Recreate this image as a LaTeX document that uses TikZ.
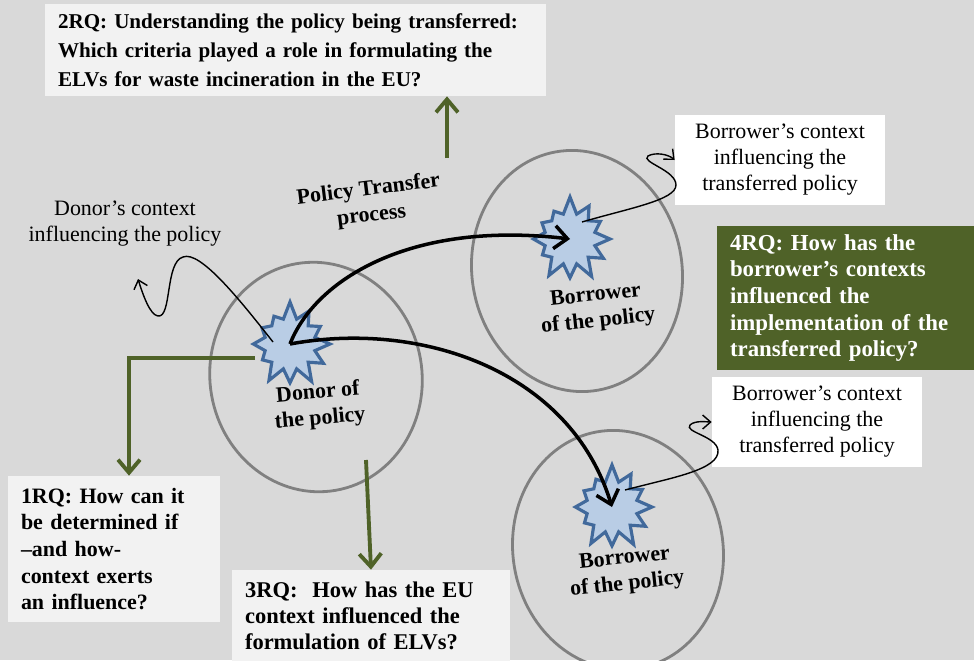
\documentclass[tikz,border=0pt]{standalone}
\usepackage{fontspec}
\setmainfont{Liberation Serif}
\usepackage{xcolor}
\usepackage{tikz}
\usetikzlibrary{
	arrows.meta,
	positioning,
	calc,
	shapes.symbols
}

\definecolor{bggray}{HTML}{D9D9D9}
\definecolor{boxgray}{HTML}{F2F2F2}
\definecolor{rqgreen}{HTML}{4F6228}
\definecolor{burstfill}{HTML}{B9CDE5}
\definecolor{burstdraw}{HTML}{41699B}
\definecolor{ringgray}{HTML}{808080}

\begin{document}
\begin{tikzpicture}[
		x=0.02cm, y=-0.02cm,
		ring/.style={
			draw=ringgray,
			line width=1.6pt
		},
		burst/.style={
			starburst,
			starburst points=12,
			starburst point height=0.36cm,
			random starburst=7,
			minimum width=1.75cm,
			minimum height=1.75cm,
			inner sep=0pt,
			fill=burstfill,
			draw=burstdraw,
			line width=1.8pt
		},
		lbl/.style={
			align=center,
			inner sep=0pt,
			font=\fontsize{12.5}{14.8}\selectfont\bfseries
		},
		ctxtext/.style={
			align=center,
			inner sep=0pt,
			font=\fontsize{12.5}{14.8}\selectfont
		},
		ctxbox/.style={
			ctxtext,
			fill=white,
			minimum width=4.2cm,
			minimum height=1.8cm
		},
		qbox/.style={
			fill=boxgray,
			align=left,
			inner xsep=0.26cm,
			inner ysep=0pt,
			font=\fontsize{12.5}{15.2}\selectfont\bfseries
		},
		transfer/.style={
			line width=2pt,
			-{Straight Barb[length=2.6mm,width=4.6mm]}
		},
		qarrow/.style={
			draw=rqgreen,
			line width=2.2pt,
			-{Straight Barb[length=2.6mm,width=4.4mm]}
		},
		ctxarrow/.style={
			line width=0.8pt,
			-{Straight Barb[length=1.6mm,width=2.8mm]}
		}
		]
		
		% Background
		\useasboundingbox[fill=bggray] (0,0) rectangle (974,660);
		\clip (0,0) rectangle (974,660);
		
		% Donor and borrowers
		\draw[ring, rotate around={10:(316,377)}] (316,377) ellipse [x radius=106, y radius=115];
		\draw[ring, rotate around={10:(577,271)}] (577,271) ellipse [x radius=105, y radius=121];
		\draw[ring, rotate around={10:(618,550)}] (618,550) ellipse [x radius=105, y radius=120];
		
		\node[burst] (don) at (290,344) {};
		\node[burst] (ub) at (570,239) {};
		\node[burst] (lb) at (612,507) {};
		
		\node[lbl, rotate=5] (donlbl) at (319,406) {Donor of\\the policy};
		\node[lbl, rotate=6] (ublbl) at (597,309) {Borrower\\of the policy};
		\node[lbl, rotate=6] (lblbl) at (626,572) {Borrower\\of the policy};
		\node[lbl, rotate=7] (ptp) at (370,203) {Policy Transfer\\process};
		
		% Contexts
		\node[ctxtext] (donctx) at (125,224) {Donor's context\\influencing the policy};
		\node[ctxbox] (ubctx) at (780,160) {Borrower's context\\influencing the\\transferred policy};
		\node[ctxbox] (lbctx) at (817,422) {Borrower's context\\influencing the\\transferred policy};
		
		% Research questions
		\node[qbox, minimum width=10.02cm, minimum height=1.84cm, text width=9.5cm,
			font=\fontsize{12}{16.5}\selectfont\bfseries] (q2) at (295.5,50)
			{2RQ: Understanding the policy being transferred:\\Which criteria played a role in formulating the\\ELVs for waste incineration in the EU?};
		\node[qbox, minimum width=4.24cm, minimum height=2.92cm, text width=3.72cm] (q1) at (114,549)
			{1RQ: How can it\\be determined if\\--and how-\\context exerts\\an influence?};
		\node[qbox, minimum width=5.56cm, minimum height=1.84cm, text width=5.04cm,
			font=\fontsize{12.8}{14.6}\selectfont\bfseries] (q3) at (371,616)
			{3RQ:~ How has the EU\\context influenced the\\formulation of ELVs?};
		\node[qbox, fill=rqgreen, text=white, minimum width=5.18cm, minimum height=2.88cm, text width=4.66cm,
			font=\fontsize{13}{15.2}\selectfont\bfseries] (q4) at (846.5,298)
			{4RQ: How has the\\borrower's contexts\\influenced the\\implementation of the\\transferred policy?};
		
		% Transfer arcs
		\draw[transfer] (don.center) .. controls (315,280) and (410,220) .. (ub.center);
		\draw[transfer] (don.center) .. controls (420,320) and (570,370) .. (lb.center);
		
		% Context influence
		\draw[ctxarrow] ([shift={(-17,-2)}]don.center) .. controls (240,300) and (200,250) .. (183,257)
			.. controls (165,262) and (172,318) .. (158,316)
			.. controls (150,315) and (143,295) .. (138,279);
		\draw[ctxarrow] ([shift={(12,-17)}]ub.center) .. controls (630,208) and (676,200) .. (676,185)
			.. controls (676,170) and (640,162) .. (648,156)
			.. controls (655,152) and (668,154) .. (ubctx.west);
		\draw[ctxarrow] ([shift={(13,-17)}]lb.center) .. controls (670,478) and (720,470) .. (718,450)
			.. controls (716,436) and (684,432) .. (690,425)
			.. controls (695,420) and (708,422) .. (lbctx.west);
		
		% Links to the questions
		\coordinate (d1) at (255,358);
		\coordinate (d2) at (447,158);
		\coordinate (d3) at (366,460);
		\draw[qarrow] (d1) -| ([xshift=0.3cm]q1.north);
		\draw[qarrow] (d2) -- (d2 |- q2.south);
		\draw[qarrow] (d3) -- (q3.north);
		
	\end{tikzpicture}
\end{document}
